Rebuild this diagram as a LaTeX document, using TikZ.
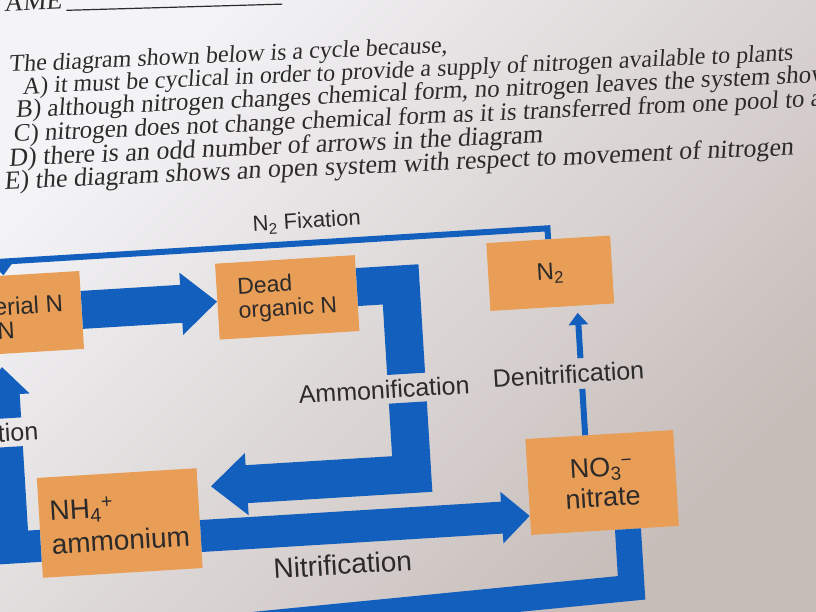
\documentclass[tikz,border=0pt]{standalone}
\usepackage{fontspec}
\setmainfont{Liberation Serif}
\newfontfamily\diagfont{Liberation Sans}
\usepackage{xcolor}
\usepackage{tikz}
\usetikzlibrary{positioning, arrows.meta, calc}

\definecolor{nblue}{RGB}{18,95,190}
\definecolor{norange}{RGB}{232,158,86}
\definecolor{paperhi}{RGB}{244,244,247}
\definecolor{papermid}{RGB}{229,228,231}
\definecolor{paperlo}{RGB}{198,188,184}
\definecolor{ink}{RGB}{45,42,42}

\begin{document}
\begin{tikzpicture}[
    x=1bp, y=-1bp,
    mybox/.style={fill=norange, minimum width=140bp, minimum height=76bp, align=left, text=ink, inner sep=4bp, font=\diagfont\fontsize{23bp}{24bp}\selectfont},
    mylabel/.style={text=ink, inner sep=5bp, font=\diagfont\fontsize{25bp}{27bp}\selectfont},
    myquestion/.style={anchor=base west, text=ink, inner sep=0pt, rotate=-1, xslant=0.12, font=\fontsize{24bp}{25bp}\selectfont},
    mybigbar/.style={draw=nblue, line width=38bp, line join=miter},
    mybigarrow/.style={mybigbar, -{Triangle[length=36bp, width=60bp]}},
    mymidbar/.style={draw=nblue, line width=32bp, line join=miter},
    mymidarrow/.style={mymidbar, -{Triangle[length=28bp, width=50bp]}},
    mylowbar/.style={draw=nblue, line width=26bp, line join=miter},
    mythin/.style={draw=nblue, line width=6bp, line join=miter},
    mythinarrow/.style={mythin, -{Triangle[length=12bp, width=19bp]}}
]

  \useasboundingbox (0,0) rectangle (816,612);
  \shade[top color=paperhi, middle color=papermid, bottom color=paperlo, shading angle=45] (0,0) rectangle (816,612);

  \begin{scope}[rotate around={3.5:(408,306)}, transform shape]

  % Question
  \node[myquestion, anchor=base east, font=\fontsize{26bp}{28bp}\selectfont] (name) at (81,-12) {AME};
  \draw[ink, line width=1.2bp] ($(name.base east)+(4,2)$) -- (301,-3);

  \node[myquestion] (qstem) at (24,48) {The diagram shown below is a cycle because,};
  \node[myquestion] (qa) at (36,71) {A) it must be cyclical in order to provide a supply of nitrogen available to plants};
  \node[myquestion, font=\fontsize{25bp}{26bp}\selectfont] (qb) at (28,94) {B) although nitrogen changes chemical form, no nitrogen leaves the system shown};
  \node[myquestion, font=\fontsize{25bp}{26bp}\selectfont] (qc) at (24,118) {C) nitrogen does not change chemical form as it is transferred from one pool to another};
  \node[myquestion, font=\fontsize{26bp}{27bp}\selectfont] (qd) at (18,142) {D) there is an odd number of arrows in the diagram};
  \node[myquestion, font=\fontsize{26bp}{27bp}\selectfont] (qe) at (12,165) {E) the diagram shows an open system with respect to movement of nitrogen};

  % Pools
  \node[mybox, minimum height=78bp] (bact) at (12,290) {};
  \node[text=ink, anchor=east, inner sep=0pt, font=\diagfont\fontsize{24bp}{24bp}\selectfont] (bacttop) at (64,282) {erial N};
  \node[text=ink, anchor=east, inner sep=0pt, font=\diagfont\fontsize{24bp}{24bp}\selectfont] (bactbot) at (14,306) {N};
  \node[mybox] (dead) at (288,290) {Dead\\organic N};
  \node[mybox, minimum width=124bp, minimum height=68bp, font=\diagfont\fontsize{24bp}{24bp}\selectfont] (n2) at (552,282) {N\textsubscript{2}};
  \node[mybox, minimum width=148bp, minimum height=96bp, align=center, font=\diagfont\fontsize{27bp}{30bp}\selectfont] (no3) at (591,494) {NO\textsubscript{3}\textsuperscript{−}\\nitrate};
  \node[mybox, minimum width=160bp, minimum height=100bp, font=\diagfont\fontsize{28bp}{34bp}\selectfont] (nh4) at (107,505) {NH\textsubscript{4}\textsuperscript{+}\\ammonium};

  % Labels
  \node[mylabel, font=\diagfont\fontsize{22bp}{24bp}\selectfont] (fixlab) at (312,216) {N\textsubscript{2} Fixation};
  \node[mylabel] (ammlab) at (379,388) {Ammonification};
  \node[mylabel, inner sep=6bp] (denitlab) at (564,384) {Denitrification};
  \node[mylabel, font=\diagfont\fontsize{28bp}{30bp}\selectfont] (nitlab) at (327,560) {Nitrification};
  \node[mylabel] (assimlab) at (11,408) {tion};

  % Arrows
  \coordinate (fixl) at (6,237);
  \coordinate (amx) at (402,0);
  \coordinate (dnx) at (577,0);
  \coordinate (nity) at (0,523);
  \coordinate (asx) at (-1,0);
  \coordinate (lowx) at (614,0);
  \coordinate (lowcorner) at (614,601);
  \coordinate (lowend) at (-40,625);

  \draw[mythinarrow] (n2.north) |- (fixl) -- (fixl |- bact.north);
  \draw[mybigarrow] (bact) -- (dead);
  \draw[mybigbar] ($(dead.east)+(0,-6)$) -| (ammlab.north -| amx);
  \draw[mybigarrow] (ammlab.south -| amx) |- ($(nh4.east)+(13,-31)$);
  \draw[mythin] (no3.north -| dnx) -- (denitlab.south -| dnx);
  \draw[mythinarrow] (denitlab.north -| dnx) -- ($(n2.south -| dnx)+(0,7)$);
  \draw[mymidarrow] (nh4.east |- nity) -- (no3.west |- nity);
  \draw[mymidbar] (nh4.west |- nity) -| (assimlab.south -| asx);
  \draw[mymidarrow] (assimlab.north -| asx) -- ($(bact.south -| asx)+(0,13)$);
  \draw[mylowbar] (no3.south -| lowx) -- (lowcorner) -- (lowend);

  \end{scope}

\end{tikzpicture}
\end{document}
